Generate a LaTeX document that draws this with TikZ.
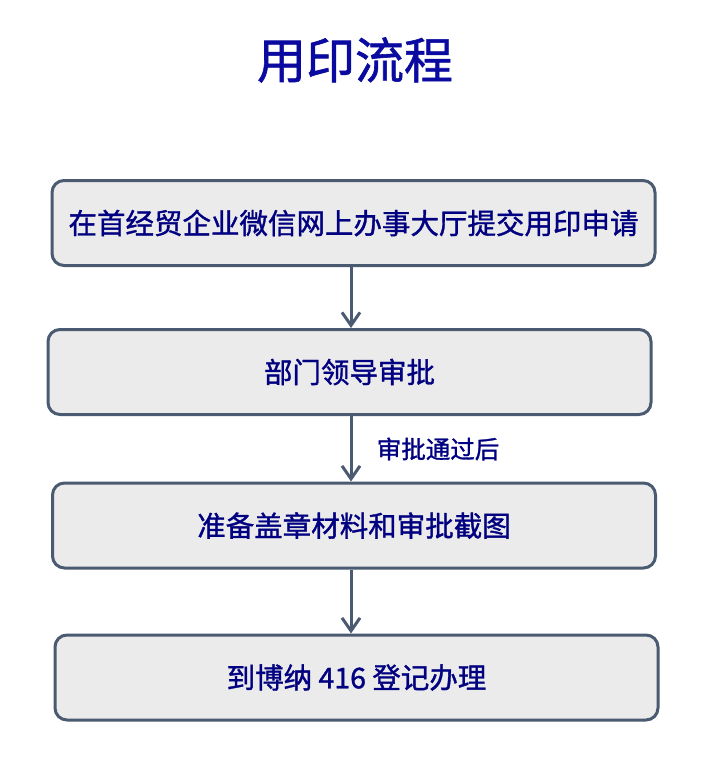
\documentclass[tikz,border=0pt]{standalone}
\usepackage{fontspec}
\setmainfont{Noto Sans CJK SC}[BoldFont=Noto Sans CJK SC, BoldFeatures={FakeBold=1.2}]
\usetikzlibrary{arrows.meta}
\definecolor{edge}{HTML}{4A5A70}
\definecolor{boxfill}{HTML}{EBEBEB}
\definecolor{ink}{HTML}{000080}
\definecolor{headink}{HTML}{0A0AA0}
\begin{document}
\begin{tikzpicture}[x=1pt, y=-1pt, line width=3pt,
    >={Straight Barb[length=13pt, width=18pt, line width=3pt]},
    box/.style={draw=edge, fill=boxfill, rounded corners=12pt, minimum width=603pt,
        minimum height=85pt, text=ink, font=\fontsize{28.5}{34}\selectfont\bfseries},
    flow/.style={->, draw=edge}]
    \useasboundingbox (0,0) rectangle (722,771);

    % Title
    \node[text=headink, font=\fontsize{49}{58}\selectfont\bfseries] (title) at (355,60) {用印流程};

    % Steps
    \node[box] (submit) at (353.5,223) {在首经贸企业微信网上办事大厅提交用印申请};
    \node[box] (approve) at (349.5,372) {部门领导审批};
    \node[box] (prepare) at (354,525.5) {准备盖章材料和审批截图};
    \node[box] (register) at (356.5,677.5) {到博纳 416 登记办理};

    % Arrows
    \coordinate (axis) at (351,0);
    \draw[flow] (submit.south -| axis) -- (approve.north -| axis);
    \draw[flow] (approve.south -| axis) -- (prepare.north -| axis);
    \draw[flow] (prepare.south -| axis) -- (register.north -| axis);
    \node[anchor=west, text=ink, font=\fontsize{24.5}{29}\selectfont\bfseries] (passed) at (372,449) {审批通过后};
\end{tikzpicture}
\end{document}
